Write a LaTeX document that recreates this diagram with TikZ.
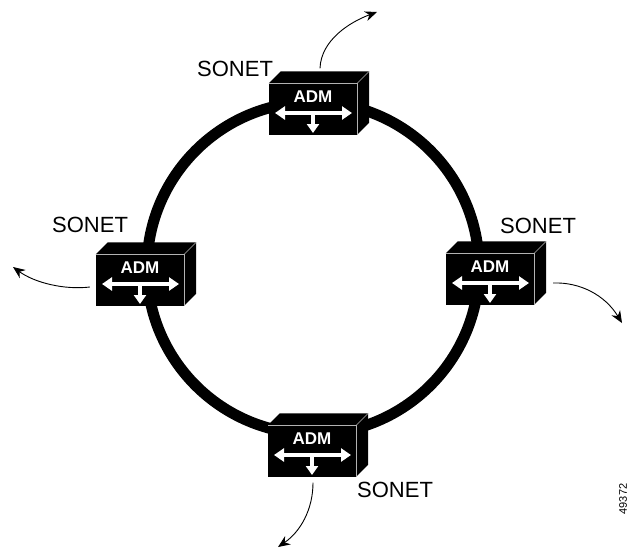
\documentclass[tikz,border=0pt]{standalone}
\usepackage{fontspec}
\setmainfont{Liberation Sans}
\usetikzlibrary{arrows.meta,calc}

\begin{document}
\begin{tikzpicture}[x=1pt,y=-1pt,
  adm/.style={fill=black, minimum width=88pt, minimum height=51pt, inner sep=0pt},
  edge/.style={black!30, line width=0.6pt},
  tag/.style={font=\fontsize{22}{24}\selectfont, inner sep=0pt, anchor=base west},
  admtext/.style={text=white, font=\fontsize{17}{18}\selectfont\bfseries, inner sep=0pt},
  flow/.style={white, line width=3.2pt},
  feed/.style={line width=0.9pt, -{Stealth[length=12pt,width=10pt]}}]
\useasboundingbox (0,0) rectangle (634,550);
% ring
\draw[line width=11pt] (313,268) circle[radius=166];
% four add/drop multiplexers
\node[adm] (T) at (313,109) {};
\node[adm] (L) at (140,280) {};
\node[adm] (R) at (490,279) {};
\node[adm] (B) at (312,451) {};
\foreach \n in {T,L,R,B} {
  \fill (\n.north west) -- ++(12,-12) -- ($(\n.north east)+(12,-12)$) -- ($(\n.south east)+(12,-12)$) -- (\n.south east) -- cycle;
  \draw[edge] (\n.north west) -- (\n.north east) -- (\n.south east);
  \draw[edge] (\n.north east) -- ++(12,-12);
  \node[admtext] at ($(\n.center)+(0,-12)$) {ADM};
  \draw[flow, {Triangle[length=10pt,width=13pt]}-{Triangle[length=10pt,width=13pt]}] ($(\n.center)+(-38,4)$) -- ($(\n.center)+(39,4)$);
  \draw[flow, -{Triangle[length=9pt,width=12pt]}] ($(\n.center)+(0,4)$) -- ($(\n.center)+(0,24)$);
}
% labels
\node[tag] (ST) at (197,76)  {SONET};
\node[tag] (SL) at (52,232)  {SONET};
\node[tag] (SR) at (500,233) {SONET};
\node[tag] (SB) at (357,497) {SONET};
\node[rotate=90, font=\fontsize{11}{12}\selectfont, inner sep=0pt] (ID) at (623,499) {49372};
% add/drop traffic
\coordinate (TO) at (377,12);
\coordinate (RO) at (622,323);
\coordinate (BO) at (278,547);
\coordinate (LO) at (13,267);
\draw[feed] ($(T.north)+(7,-15)$) .. controls (321,40) and (350,22) .. (TO);
\draw[feed] ($(R.east)+(19,4)$) .. controls (580,282) and (605,295) .. (RO);
\draw[feed] ($(B.south)+(1,6)$) .. controls (313,510) and (300,532) .. (BO);
\draw[feed] ($(L.west)+(-6,7)$) .. controls (65,290) and (35,283) .. (LO);
\end{tikzpicture}
\end{document}
